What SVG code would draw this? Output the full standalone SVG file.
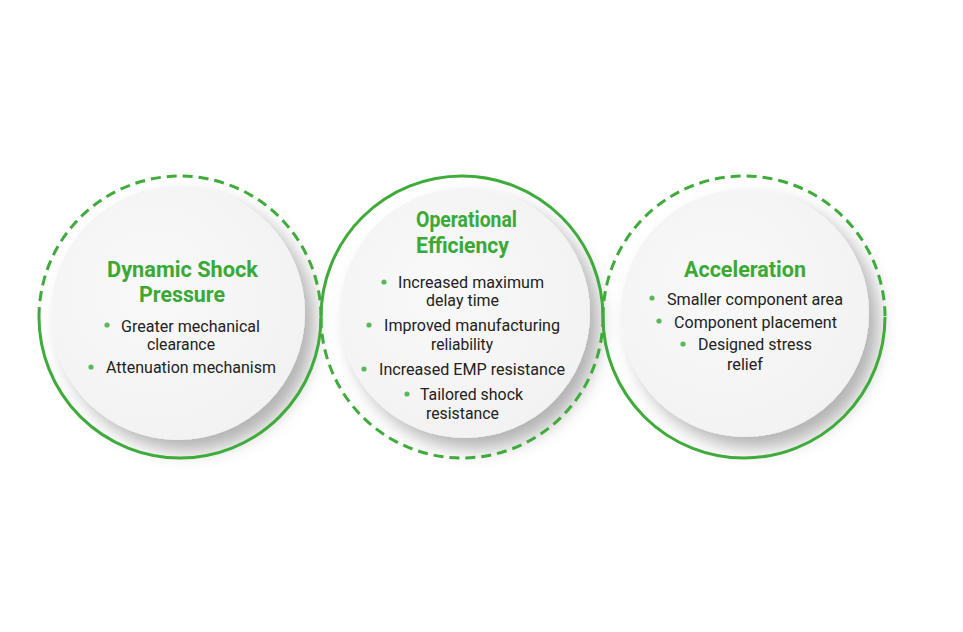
<svg xmlns="http://www.w3.org/2000/svg" width="963" height="632" viewBox="0 0 963 632">
<defs>
<filter id="sh" x="-30%" y="-30%" width="170%" height="170%">
<feDropShadow dx="10" dy="11" stdDeviation="9" flood-color="#000" flood-opacity="0.3"/>
</filter>
<radialGradient id="dg" cx="40%" cy="40%" r="65%">
<stop offset="0" stop-color="#f9f9f9"/>
<stop offset="1" stop-color="#f2f2f2"/>
</radialGradient>
</defs>
<style>
.disc{fill:url(#dg);filter:url(#sh)}
.ring{fill:none;stroke:#3fab3a;stroke-width:3}
.dash{stroke-dasharray:10 6}
.t{font-family:Roboto,"Liberation Sans",sans-serif;font-weight:bold;font-size:21.5px;fill:#3aa935}
.b{font-family:Roboto,"Liberation Sans",sans-serif;font-size:17px;fill:#222}
.dot{fill:#5bb85a}
</style>
<rect width="963" height="632" fill="#fff"/>
<g id="discs">
<circle class="disc" cx="178" cy="313" r="127"/>
<circle class="disc" cx="465" cy="313" r="125"/>
<circle class="disc" cx="745" cy="313" r="124"/>
</g>
<g id="connectors">
<path class="ring dash" d="M39 317 A141 141 0 0 1 321 317"/>
<path class="ring" d="M321 317 A141 141 0 0 1 39 317"/>
<path class="ring" d="M321 317 A141 141 0 0 1 603 317"/>
<path class="ring dash" d="M603 317 A141 141 0 0 1 321 317"/>
<path class="ring dash" d="M603 317 A141 141 0 0 1 885 317"/>
<path class="ring" d="M885 317 A141 141 0 0 1 603 317"/>
</g>
<g id="node-dynamic">
<text class="t" x="107" y="277" textLength="151" lengthAdjust="spacingAndGlyphs">Dynamic Shock</text>
<text class="t" x="139" y="302" textLength="86" lengthAdjust="spacingAndGlyphs">Pressure</text>
<circle class="dot" cx="107" cy="325" r="2.6"/>
<text class="b" x="121" y="332" textLength="139" lengthAdjust="spacingAndGlyphs">Greater mechanical</text>
<text class="b" x="147" y="350" textLength="68" lengthAdjust="spacingAndGlyphs">clearance</text>
<circle class="dot" cx="91" cy="367" r="2.6"/>
<text class="b" x="106" y="373" textLength="170" lengthAdjust="spacingAndGlyphs">Attenuation mechanism</text>
</g>
<g id="node-operational">
<text class="t" x="416" y="227" textLength="101" lengthAdjust="spacingAndGlyphs">Operational</text>
<text class="t" x="416" y="253" textLength="93" lengthAdjust="spacingAndGlyphs">Efficiency</text>
<circle class="dot" cx="384" cy="282" r="2.6"/>
<text class="b" x="398" y="288" textLength="146" lengthAdjust="spacingAndGlyphs">Increased maximum</text>
<text class="b" x="426" y="306" textLength="73" lengthAdjust="spacingAndGlyphs">delay time</text>
<circle class="dot" cx="369" cy="325" r="2.6"/>
<text class="b" x="384" y="331" textLength="176" lengthAdjust="spacingAndGlyphs">Improved manufacturing</text>
<text class="b" x="431" y="350" textLength="62" lengthAdjust="spacingAndGlyphs">reliability</text>
<circle class="dot" cx="364" cy="369" r="2.6"/>
<text class="b" x="379" y="375" textLength="186" lengthAdjust="spacingAndGlyphs">Increased EMP resistance</text>
<circle class="dot" cx="407" cy="394" r="2.6"/>
<text class="b" x="420" y="400" textLength="103" lengthAdjust="spacingAndGlyphs">Tailored shock</text>
<text class="b" x="426" y="419" textLength="73" lengthAdjust="spacingAndGlyphs">resistance</text>
</g>
<g id="node-acceleration">
<text class="t" x="684" y="277" textLength="122" lengthAdjust="spacingAndGlyphs">Acceleration</text>
<circle class="dot" cx="652" cy="298" r="2.6"/>
<text class="b" x="667" y="305" textLength="176" lengthAdjust="spacingAndGlyphs">Smaller component area</text>
<circle class="dot" cx="659" cy="321" r="2.6"/>
<text class="b" x="674" y="328" textLength="163" lengthAdjust="spacingAndGlyphs">Component placement</text>
<circle class="dot" cx="683" cy="344" r="2.6"/>
<text class="b" x="698" y="350" textLength="114" lengthAdjust="spacingAndGlyphs">Designed stress</text>
<text class="b" x="727" y="370" textLength="36" lengthAdjust="spacingAndGlyphs">relief</text>
</g>
</svg>
